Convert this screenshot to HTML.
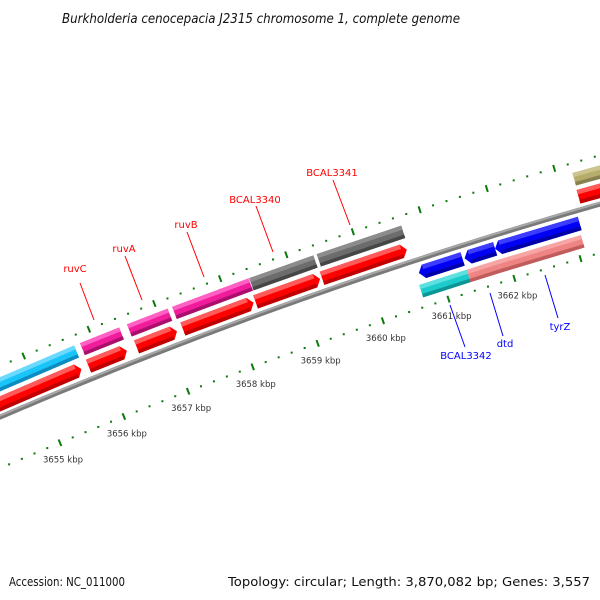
<!DOCTYPE html>
<html><head><meta charset="utf-8"><style>
html,body{margin:0;padding:0;background:#fff}
svg{display:block}
text{font-family:"DejaVu Sans","Liberation Sans",sans-serif}
</style></head><body>
<svg id="chart" width="600" height="600" viewBox="0 0 600 600" xmlns="http://www.w3.org/2000/svg">
<rect width="600" height="600" fill="#fff"/>
<text x="261" y="23" text-anchor="middle" font-size="13" font-style="italic" fill="#111" textLength="398" lengthAdjust="spacingAndGlyphs">Burkholderia cenocepacia J2315 chromosome 1, complete genome</text>
<g id="ticks"></g>
<g id="backbone"></g>
<g id="genes"></g>
<g id="labels">
  <g stroke="#f00" stroke-width="1">
    <line x1="80" y1="283" x2="94" y2="320"/>
    <line x1="125" y1="256" x2="142" y2="300"/>
    <line x1="187" y1="232" x2="204" y2="277"/>
    <line x1="256" y1="206" x2="273" y2="252"/>
    <line x1="333" y1="180" x2="350" y2="225"/>
  </g>
  <g stroke="#00f" stroke-width="1">
    <line x1="465" y1="347" x2="450" y2="305"/>
    <line x1="503" y1="336" x2="490" y2="293"/>
    <line x1="558" y1="318" x2="545" y2="275"/>
  </g>
  <g font-size="10" fill="#f00" text-anchor="middle">
    <text x="75" y="272">ruvC</text>
    <text x="124" y="252">ruvA</text>
    <text x="186" y="228">ruvB</text>
    <text x="255" y="203">BCAL3340</text>
    <text x="332" y="176">BCAL3341</text>
  </g>
  <g font-size="10" fill="#00f" text-anchor="middle">
    <text x="466" y="359">BCAL3342</text>
    <text x="505" y="347">dtd</text>
    <text x="560" y="330">tyrZ</text>
  </g>
</g>
<text x="9" y="586" font-size="12" fill="#111" textLength="116" lengthAdjust="spacingAndGlyphs">Accession: NC_011000</text>
<text x="590" y="586" font-size="12" fill="#111" text-anchor="end" textLength="362" lengthAdjust="spacingAndGlyphs">Topology: circular; Length: 3,870,082 bp; Genes: 3,557</text>
</svg>
<script>
// ---- data (kbp) ----
const tickMajors = [3654, 3655, 3656, 3657, 3658, 3659, 3660, 3661, 3662, 3663, 3664];
const tickLabelValues = [3655, 3656, 3657, 3658, 3659, 3660, 3661, 3662];
const geneNames = ["red1","red2","red3","red4","red5","red6","red7","cyan1","ruvC","ruvA","ruvB","BCAL3340","BCAL3341","khaki1","blue1","blue2","blue3","BCAL3342","dtd","tyrZ"];
const geneStart = [3653.0,3655.80,3656.54,3657.25,3658.36,3659.37,3663.22,3653.0,3655.81,3656.53,3657.22,3658.39,3659.41,3663.23,3660.71,3661.40,3661.86,3660.66,3661.38,3661.84];
const geneEnd   = [3655.69,3656.39,3657.16,3658.33,3659.34,3660.65,3665.0,3655.72,3656.41,3657.15,3658.38,3659.36,3660.68,3665.0,3661.37,3661.86,3663.13,3661.38,3661.84,3663.10];
const geneTrack = [1,1,1,1,1,1,1,2,2,2,2,2,2,2,-1,-1,-1,-2,-2,-2];
const geneStrand= [1,1,1,1,1,1,1,0,0,0,0,0,0,0,-1,-1,-1,0,0,0];
const geneKind  = ["red","red","red","red","red","red","red","cyan","pink","pink","pink","gray","gray","khaki","blue","blue","blue","teal","salmon","salmon"];

// ---- geometry ----
const CX=1960, CY=4987, R0=4972.5, PHI0=-1.9528, DPHI=0.01402, REF=3656;
function P(k,off){const f=PHI0+(k-REF)*DPHI, r=R0+off;return [CX+r*Math.cos(f),CY+r*Math.sin(f)];}
function pts(a){return a.map(p=>p[0].toFixed(2)+","+p[1].toFixed(2)).join(" ");}
const NS="http://www.w3.org/2000/svg";
function mk(tag,attrs,parent){const e=document.createElementNS(NS,tag);for(const k in attrs)e.setAttribute(k,attrs[k]);parent.appendChild(e);return e;}
const palette={red:["#ff0000","#ff5a5a","#c00000"],cyan:["#18c4f8","#6ad9ff","#0e8cc0"],pink:["#f01c9c","#ff60c4","#a8106c"],
 gray:["#6c6c6c","#8c8c8c","#464646"],khaki:["#b6ad6c","#cbc48e","#878050"],blue:["#0000f2","#3c3cff","#0000a8"],
 teal:["#1ccccc","#5ce0e0","#0e9494"],salmon:["#ee8484","#f6a4a4","#c05c5c"]};
const trackOff={1:13,2:31,"-1":-13,"-2":-31}, trackH={1:7,2:6.5,"-1":7,"-2":6.5};

// backbone
const bb=document.getElementById("backbone");
const line=[];for(let k=3652;k<=3666;k+=0.1)line.push(P(k,0));
const b1=mk("polyline",{points:pts(line),fill:"none",stroke:"#7a7a7a","stroke-width":5},bb);


const hl=[];for(let k=3652;k<=3666;k+=0.1)hl.push(P(k,1.3));
const b2=mk("polyline",{points:pts(hl),fill:"none",stroke:"#a8a8a8","stroke-width":2},bb);



// ticks
const tg=document.getElementById("ticks");
for(const row of [47,-47]){
  for(let i=0;i<(tickMajors.length-1)*5+1;i++){
    const k=tickMajors[0]+i*0.2;
    const major=(i%5===0);
    let el;
    if(major){const a=P(k,row+3.5),b=P(k,row-3.5);
      el=mk("line",{x1:a[0],y1:a[1],x2:b[0],y2:b[1],stroke:"#0a7a0a","stroke-width":2},tg);}
    else{const c=P(k,row);el=mk("rect",{x:c[0]-1,y:c[1]-1,width:2,height:2,fill:"#0a7a0a"},tg);}
    
    
  }
}
tickLabelValues.forEach(v=>{
  const c=P(v,-47);
  const t=mk("text",{x:c[0]+3,y:c[1]+20,"font-size":"8.5","text-anchor":"middle",fill:"#333"},tg);
  t.textContent=v+" kbp";
  
  
});

// genes
const gg=document.getElementById("genes");
const TIP=0.075;
geneNames.forEach((n,i)=>{
  const k1=geneStart[i],k2=geneEnd[i],o=trackOff[geneTrack[i]],h=trackH[geneTrack[i]],s=geneStrand[i];
  const col=palette[geneKind[i]];
  const g=mk("g",{},gg);
  
  
  let body,a1=k1,a2=k2;
  if(s===1){a2=k2-TIP;body=[P(k1,o+h),P(a2,o+h),P(k2,o),P(a2,o-h),P(k1,o-h)];}
  else if(s===-1){a1=k1+TIP;body=[P(k1,o),P(a1,o+h),P(k2,o+h),P(k2,o-h),P(a1,o-h)];}
  else body=[P(k1,o+h),P(k2,o+h),P(k2,o-h),P(k1,o-h)];
  mk("polygon",{points:pts(body),fill:col[0]},g);
  mk("polygon",{points:pts([P(a1,o+h),P(a2,o+h),P(a2,o+h*0.35),P(a1,o+h*0.35)]),fill:col[1]},g);
  mk("polygon",{points:pts([P(a1,o-h*0.45),P(a2,o-h*0.45),P(a2,o-h),P(a1,o-h)]),fill:col[2]},g);
});
</script>
</body></html>
